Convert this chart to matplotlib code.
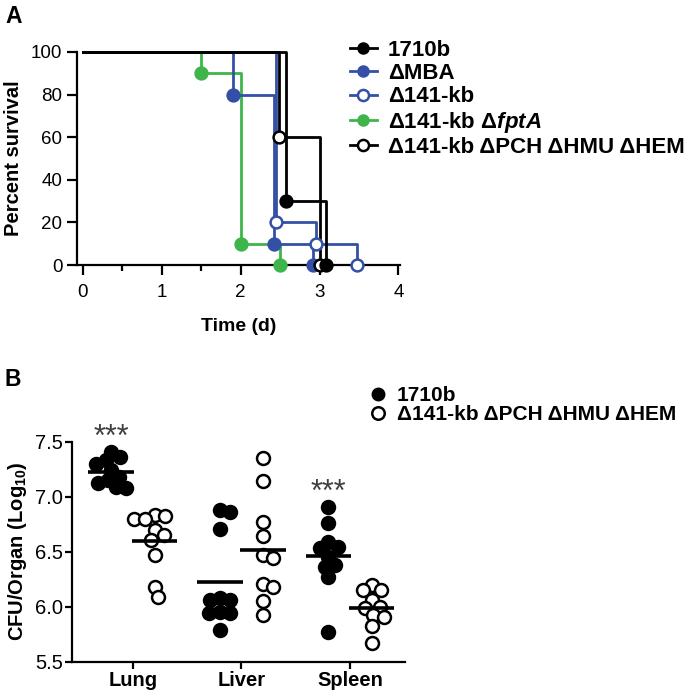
import numpy as np
import matplotlib
matplotlib.use('Agg')
import matplotlib.pyplot as plt
from matplotlib.lines import Line2D

plt.rcParams['font.family'] = ['Liberation Sans', 'DejaVu Sans']
plt.rcParams['mathtext.fontset'] = 'custom'
plt.rcParams['mathtext.rm'] = 'Liberation Sans:bold'
plt.rcParams['mathtext.it'] = 'Liberation Sans:italic:bold'
plt.rcParams['mathtext.bf'] = 'Liberation Sans:bold'

# --- panel A: survival curves (time in days, percent surviving)
t_1710b = [0, 2.58, 3.08]
s_1710b = [100, 30, 0]
t_mba = [0, 1.9, 2.42, 2.92]
s_mba = [100, 80, 10, 0]
t_141 = [0, 2.45, 2.95, 3.47]
s_141 = [100, 20, 10, 0]
t_fpta = [0, 1.5, 2.0, 2.5]
s_fpta = [100, 90, 10, 0]
t_pch = [0, 2.48, 3.0]
s_pch = [100, 60, 0]

strain_labels = ['1710b', 'ΔMBA', 'Δ141-kb', 'Δ141-kb Δ$fptA$',
                 'Δ141-kb ΔPCH ΔHMU ΔHEM']

# --- panel B: bacterial burden, log10 CFU per organ
organs = ['Lung', 'Liver', 'Spleen']
wt_lung = [7.41, 7.36, 7.33, 7.30, 7.24, 7.18, 7.15, 7.12, 7.09, 7.08]
wt_liver = [6.88, 6.86, 6.71, 6.08, 6.06, 6.06, 5.95, 5.94, 5.94, 5.79]
wt_spleen = [6.91, 6.76, 6.59, 6.545, 6.53, 6.455, 6.38, 6.36, 6.27, 5.77]
mut_lung = [6.83, 6.82, 6.80, 6.80, 6.70, 6.65, 6.61, 6.47, 6.18, 6.09]
mut_liver = [7.35, 7.14, 6.77, 6.64, 6.47, 6.44, 6.21, 6.18, 6.05, 5.92]
mut_spleen = [6.20, 6.15, 6.15, 6.06, 6.0, 5.985, 5.925, 5.91, 5.82, 5.67]
signif = ['***', '', '***']

BLUE = '#3350a6'
GREEN = '#3db54a'
LW = 1.6

fig = plt.figure(figsize=(6.86, 7.0), dpi=100)


def style_axes(ax):
    for side in ['top', 'right']:
        ax.spines[side].set_visible(False)
    for side in ['left', 'bottom']:
        ax.spines[side].set_linewidth(LW)


# ---------------- panel A
axA = fig.add_axes([77 / 686, 1 - 265 / 700, 323 / 686, 213 / 700])
style_axes(axA)

curves = [
    (t_fpta, s_fpta, GREEN, GREEN),
    (t_mba, s_mba, BLUE, BLUE),
    (t_141, s_141, BLUE, 'white'),
    (t_pch, s_pch, 'black', 'white'),
    (t_1710b, s_1710b, 'black', 'black'),
]
for t, s, col, face in curves:
    axA.step(t, s, where='post', color=col, lw=2.0, clip_on=False, zorder=3)
    axA.plot(t[1:], s[1:], 'o', ms=8.5, mfc=face, mec=col, mew=1.8,
             clip_on=False, zorder=4)

axA.set_xlim(-0.076, 4.02)
axA.set_ylim(0, 100)
axA.set_xticks([0, 1, 2, 3, 4])
axA.set_xticks([0.5, 1.5, 2.5, 3.5], minor=True)
axA.set_yticks([0, 20, 40, 60, 80, 100])
axA.tick_params(which='major', direction='out', length=7, width=LW,
                labelsize=13.5)
axA.tick_params(which='minor', direction='out', length=4, width=LW)
axA.tick_params(axis='x', pad=7)
axA.set_xlabel('Time (d)', fontsize=14, fontweight='bold', labelpad=12)
axA.set_ylabel('Percent survival', fontsize=14.5, fontweight='bold',
               labelpad=6)

handles = [
    Line2D([], [], color='black', marker='o', mfc='black', ms=8, lw=2),
    Line2D([], [], color=BLUE, marker='o', mfc=BLUE, ms=8, lw=2),
    Line2D([], [], color=BLUE, marker='o', mfc='white', mew=1.8, ms=8, lw=2),
    Line2D([], [], color=GREEN, marker='o', mfc=GREEN, ms=8, lw=2),
    Line2D([], [], color='black', marker='o', mfc='white', mew=1.8, ms=8, lw=2),
]
legA = fig.legend(handles, strain_labels, loc='upper left',
                  bbox_to_anchor=(350 / 686, 1 - 40 / 700), frameon=False,
                  prop={'weight': 'bold', 'size': 16}, handlelength=1.2,
                  handletextpad=0.5, labelspacing=0.1, borderpad=0,
                  borderaxespad=0)

fig.text(5 / 686, 1 - 23 / 700, 'A', fontsize=16.5, fontweight='bold',
         va='baseline')

# ---------------- panel B
axB = fig.add_axes([72 / 686, 1 - 661.7 / 700, 333 / 686, 220 / 700])
style_axes(axB)
axB.set_xlim(-0.562, 2.507)
axB.set_ylim(5.5, 7.5)

px_x = axB.transData.transform((1, 0))[0] - axB.transData.transform((0, 0))[0]
px_y = axB.transData.transform((0, 1))[1] - axB.transData.transform((0, 0))[1]


def swarm(values, diam):
    # simple beeswarm in pixel space, returns x offsets in data units
    vals = np.asarray(values)
    order = np.argsort(vals)[::-1]
    placed = []
    offs = np.zeros(len(vals))
    for i in order:
        y = vals[i] * px_y
        cands = [0.0]
        for px, py in placed:
            dy = y - py
            if abs(dy) < diam:
                dx = np.sqrt(diam ** 2 - dy ** 2)
                cands += [px + dx, px - dx]
        cands.sort(key=abs)
        for c in cands:
            if all((c - px) ** 2 + (y - py) ** 2 >= diam ** 2 - 1e-6
                   for px, py in placed):
                break
        placed.append((c, y))
        offs[i] = c / px_x
    return offs


wt_groups = [wt_lung, wt_liver, wt_spleen]
mut_groups = [mut_lung, mut_liver, mut_spleen]
for k in range(3):
    for vals, shift, face in [(wt_groups[k], -0.2, 'black'),
                              (mut_groups[k], 0.2, 'white')]:
        xs = k + shift + swarm(vals, 10.5)
        axB.plot(xs, vals, 'o', ms=9.3, mfc=face, mec='black', mew=1.8,
                 ls='none', zorder=3, clip_on=False)
        axB.hlines(np.mean(vals), k + shift - 0.21, k + shift + 0.21,
                   color='black', lw=2.6, zorder=4)
    if signif[k]:
        axB.text(k - 0.2, max(wt_groups[k]) - 0.01, signif[k], ha='center',
                 va='bottom', fontsize=22, color='#404040')

axB.set_xticks(range(3))
axB.set_xticklabels(organs, fontsize=15.5, fontweight='bold')
axB.set_yticks([5.5, 6.0, 6.5, 7.0, 7.5])
axB.set_yticklabels(['%.1f' % v for v in [5.5, 6.0, 6.5, 7.0, 7.5]])
axB.tick_params(direction='out', length=5, width=LW, labelsize=14.5, pad=1.5)
axB.tick_params(axis='x', length=5, pad=2)
axB.set_ylabel('CFU/Organ (Log$_{\\mathrm{10}}$)', fontsize=14.5,
               fontweight='bold', labelpad=4)

handlesB = [
    Line2D([], [], ls='none', marker='o', mfc='black', mec='black', ms=9),
    Line2D([], [], ls='none', marker='o', mfc='white', mec='black', mew=1.8, ms=9),
]
fig.legend(handlesB, [strain_labels[0], strain_labels[4]], loc='upper left',
           bbox_to_anchor=(370 / 686, 1 - 386 / 700), frameon=False,
           prop={'weight': 'bold', 'size': 15}, handlelength=0.8,
           handletextpad=0.5, labelspacing=0.0, borderpad=0, borderaxespad=0)

fig.text(5 / 686, 1 - 386 / 700, 'B', fontsize=16.5, fontweight='bold',
         va='baseline')

fig.savefig('out.png', dpi=100)
